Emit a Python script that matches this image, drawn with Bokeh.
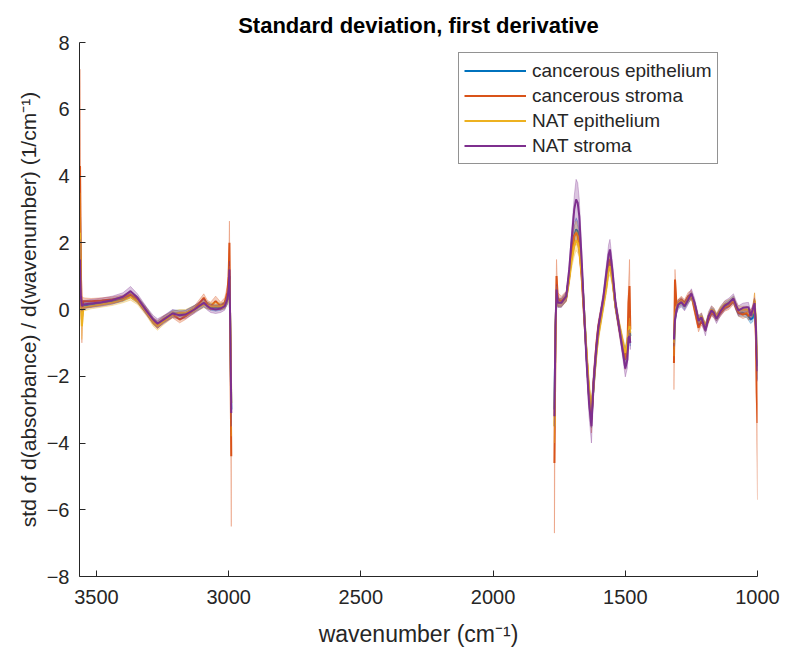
import numpy as np
from bokeh.plotting import figure
from bokeh.models import Range1d, Legend, LegendItem, Label, FixedTicker
from bokeh.embed import file_html
from bokeh.resources import INLINE

# ---------------- data (values in units of 1e-3) ----------------
series_names = ["cancerous epithelium", "cancerous stroma", "NAT epithelium", "NAT stroma"]
series_colors = ["#0072BD", "#D95319", "#EDB120", "#7E2F8E"]

x_ticks = [3500, 3000, 2500, 2000, 1500, 1000]
y_ticks = [-8, -6, -4, -2, 0, 2, 4, 6, 8]

# region 1 : 3562 .. 2990 cm-1
wn1 = [3562, 3559, 3555, 3550, 3520, 3480, 3440, 3400, 3371, 3345, 3310, 3285, 3269, 3245,
       3212, 3185, 3163, 3130, 3094, 3080, 3068, 3049, 3030, 3015, 3005, 3000, 2997, 2993, 2990]
ce1 = [2.8, 0.5, -0.1, 0.12, 0.15, 0.2, 0.25, 0.32, 0.45, 0.3, -0.05, -0.35, -0.45, -0.3,
       -0.12, -0.12, -0.12, 0.02, 0.18, 0.12, 0.08, 0.05, 0.08, 0.12, 0.3, 0.55, 1.0, -0.9, -3.0]
ce1_sd = [1.0, 0.4, 0.3, 0.1, 0.08, 0.08, 0.08, 0.08, 0.1, 0.1, 0.1, 0.1, 0.1, 0.1,
          0.1, 0.1, 0.1, 0.1, 0.1, 0.1, 0.1, 0.1, 0.1, 0.1, 0.15, 0.2, 0.4, 0.5, 0.8]
cs1 = [4.3, 1.2, -0.3, 0.25, 0.25, 0.27, 0.3, 0.35, 0.45, 0.3, -0.05, -0.35, -0.45, -0.28,
       -0.15, -0.3, -0.2, 0.0, 0.35, 0.15, 0.1, 0.25, 0.1, 0.2, 0.5, 1.0, 2.0, -1.5, -4.4]
cs1_sd = [2.9, 0.9, 0.7, 0.1, 0.08, 0.08, 0.08, 0.08, 0.1, 0.1, 0.1, 0.1, 0.12, 0.1,
          0.1, 0.1, 0.1, 0.1, 0.12, 0.12, 0.12, 0.15, 0.12, 0.15, 0.2, 0.3, 0.65, 0.8, 2.1]
ne1 = [2.3, 0.6, -0.5, 0.05, 0.1, 0.15, 0.2, 0.28, 0.38, 0.25, -0.1, -0.4, -0.5, -0.35,
       -0.15, -0.1, -0.1, 0.02, 0.15, 0.12, 0.1, 0.1, 0.1, 0.12, 0.3, 0.5, 0.9, -0.8, -2.8]
ne1_sd = [1.2, 0.5, 0.4, 0.1, 0.08, 0.08, 0.08, 0.08, 0.1, 0.1, 0.1, 0.1, 0.12, 0.1,
          0.1, 0.1, 0.1, 0.1, 0.1, 0.1, 0.1, 0.1, 0.1, 0.1, 0.15, 0.3, 0.4, 0.6, 1.0]
ns1 = [1.5, 0.4, 0.1, 0.15, 0.18, 0.22, 0.28, 0.38, 0.55, 0.35, -0.05, -0.3, -0.42, -0.3,
       -0.12, -0.17, -0.15, 0.0, 0.2, 0.1, 0.03, 0.0, 0.03, 0.1, 0.3, 0.6, 1.2, -1.0, -3.1]
ns1_sd = [0.6, 0.3, 0.15, 0.12, 0.12, 0.12, 0.12, 0.12, 0.14, 0.12, 0.12, 0.12, 0.14, 0.12,
          0.12, 0.12, 0.12, 0.12, 0.12, 0.12, 0.12, 0.12, 0.12, 0.12, 0.14, 0.2, 0.25, 0.3, 0.4]

# region 2 : 1768 .. 1481 cm-1
wn2 = [1768, 1764, 1760, 1755, 1742, 1723, 1712, 1704, 1693, 1686, 1680, 1674, 1665, 1659,
       1647, 1637, 1628, 1620, 1610, 1602, 1583, 1571, 1563, 1558, 1549, 1537, 1522, 1507,
       1500, 1492, 1488, 1484, 1481]
ce2 = [-3.0, -0.6, 0.5, 0.2, 0.2, 0.38, 1.0, 1.6, 2.2, 2.4, 2.35, 2.0, 1.2, 0.4,
       -1.3, -2.6, -3.2, -2.3, -1.3, -0.7, 0.2, 0.8, 1.35, 1.45, 1.0, 0.1, -0.55, -1.2,
       -1.4, -1.1, -0.6, -0.5, -0.8]
ce2_sd = [0.5, 0.3, 0.2, 0.12, 0.12, 0.12, 0.15, 0.2, 0.3, 0.35, 0.3, 0.3, 0.2, 0.2,
          0.2, 0.3, 0.35, 0.3, 0.2, 0.15, 0.15, 0.2, 0.25, 0.25, 0.2, 0.15, 0.15, 0.2,
          0.25, 0.25, 0.3, 0.3, 0.3]
cs2 = [-4.6, -1.0, 1.0, 0.3, 0.25, 0.4, 1.0, 1.6, 2.2, 2.3, 2.2, 1.9, 1.0, 0.2,
       -1.3, -2.6, -3.3, -2.2, -1.1, -0.5, 0.3, 0.9, 1.4, 1.5, 1.0, 0.1, -0.6, -1.2,
       -1.5, -1.2, 0.2, 0.7, -0.6]
cs2_sd = [2.1, 0.7, 0.5, 0.2, 0.15, 0.15, 0.2, 0.2, 0.3, 0.35, 0.3, 0.3, 0.2, 0.2,
          0.2, 0.3, 0.4, 0.3, 0.2, 0.15, 0.15, 0.2, 0.25, 0.25, 0.2, 0.15, 0.2, 0.25,
          0.3, 0.3, 0.5, 0.8, 0.4]
ne2 = [-3.5, -0.6, 0.5, 0.2, 0.2, 0.35, 0.9, 1.4, 1.9, 2.07, 2.0, 1.8, 1.1, 0.4,
       -1.2, -2.4, -3.0, -2.3, -1.4, -0.8, 0.1, 0.7, 1.2, 1.3, 0.9, 0.1, -0.5, -1.1,
       -1.3, -1.0, -0.7, -0.5, -0.7]
ne2_sd = [0.5, 0.3, 0.2, 0.12, 0.12, 0.12, 0.15, 0.2, 0.3, 0.3, 0.3, 0.25, 0.2, 0.2,
          0.2, 0.3, 0.3, 0.3, 0.2, 0.15, 0.15, 0.2, 0.25, 0.25, 0.2, 0.15, 0.15, 0.2,
          0.2, 0.2, 0.25, 0.25, 0.25]
ns2 = [-3.2, -0.5, 0.6, 0.2, 0.2, 0.4, 1.2, 2.0, 3.0, 3.3, 3.2, 2.8, 1.5, 0.5,
       -1.5, -2.8, -3.5, -2.2, -1.2, -0.55, 0.36, 1.16, 1.65, 1.8, 1.2, 0.2, -0.6, -1.4,
       -1.77, -1.5, -0.84, -0.8, -1.0]
ns2_sd = [0.3, 0.2, 0.15, 0.14, 0.14, 0.14, 0.16, 0.2, 0.4, 0.6, 0.6, 0.5, 0.3, 0.2,
          0.2, 0.4, 0.5, 0.4, 0.2, 0.16, 0.16, 0.2, 0.3, 0.3, 0.25, 0.16, 0.16, 0.2,
          0.25, 0.25, 0.2, 0.2, 0.2]

# region 3 : 1316 .. 1000 cm-1
wn3 = [1316, 1312, 1306, 1300, 1288, 1276, 1262, 1250, 1238, 1223, 1212, 1197, 1185, 1174,
       1165, 1155, 1140, 1124, 1108, 1091, 1080, 1072, 1055, 1040, 1034, 1026, 1018, 1011,
       1006, 1003, 1000]
ce3 = [-1.2, -0.25, 0.0, 0.15, 0.22, 0.1, 0.3, 0.42, 0.15, -0.35, -0.25, -0.55, -0.25, -0.05,
       -0.1, -0.25, -0.05, 0.1, 0.18, 0.3, 0.05, -0.1, -0.1, -0.15, -0.2, -0.3, -0.25, 0.1,
       -0.5, -1.2, -1.7]
ce3_sd = [0.4, 0.2, 0.12, 0.1, 0.1, 0.1, 0.1, 0.1, 0.1, 0.12, 0.1, 0.12, 0.1, 0.1,
          0.1, 0.1, 0.1, 0.1, 0.1, 0.1, 0.1, 0.1, 0.1, 0.1, 0.12, 0.12, 0.12, 0.15,
          0.2, 0.3, 0.4]
cs3 = [-1.6, 0.9, 0.1, 0.2, 0.3, 0.2, 0.4, 0.45, 0.0, -0.55, -0.35, -0.55, -0.3, -0.1,
       -0.15, -0.25, -0.1, 0.05, 0.1, 0.25, 0.05, -0.1, -0.15, -0.1, -0.2, -0.1, -0.05, 0.25,
       -0.8, -2.5, -3.4]
cs3_sd = [0.8, 0.3, 0.15, 0.1, 0.1, 0.1, 0.12, 0.12, 0.12, 0.12, 0.12, 0.12, 0.1, 0.1,
          0.1, 0.1, 0.1, 0.1, 0.1, 0.1, 0.1, 0.1, 0.12, 0.12, 0.12, 0.12, 0.12, 0.25,
          0.5, 1.5, 2.3]
ne3 = [-1.0, -0.2, 0.05, 0.2, 0.25, 0.15, 0.3, 0.4, 0.15, -0.3, -0.2, -0.5, -0.2, 0.0,
       -0.05, -0.2, 0.0, 0.15, 0.2, 0.3, 0.1, 0.0, 0.0, 0.0, -0.05, -0.1, -0.1, 0.3,
       -0.4, -1.0, -1.5]
ne3_sd = [0.4, 0.2, 0.12, 0.1, 0.1, 0.1, 0.1, 0.1, 0.1, 0.1, 0.1, 0.1, 0.1, 0.1,
          0.1, 0.1, 0.1, 0.1, 0.1, 0.1, 0.1, 0.1, 0.1, 0.1, 0.1, 0.1, 0.12, 0.2,
          0.2, 0.3, 0.4]
ns3 = [-0.9, -0.3, 0.0, 0.15, 0.22, 0.1, 0.3, 0.48, 0.2, -0.33, -0.24, -0.63, -0.2, -0.03,
       -0.1, -0.28, -0.05, 0.12, 0.2, 0.33, 0.1, -0.03, 0.05, 0.07, 0.07, -0.19, 0.0, 0.19,
       -0.5, -1.4, -1.85]
ns3_sd = [0.2, 0.15, 0.14, 0.14, 0.14, 0.14, 0.14, 0.14, 0.14, 0.14, 0.14, 0.16, 0.14, 0.14,
          0.14, 0.14, 0.14, 0.14, 0.14, 0.14, 0.14, 0.14, 0.14, 0.14, 0.14, 0.14, 0.14, 0.16,
          0.2, 0.3, 0.3]

regions_wn = [wn1, wn2, wn3]
series_means = [[ce1, ce2, ce3], [cs1, cs2, cs3], [ne1, ne2, ne3], [ns1, ns2, ns3]]
series_sds = [[ce1_sd, ce2_sd, ce3_sd], [cs1_sd, cs2_sd, cs3_sd],
              [ne1_sd, ne2_sd, ne3_sd], [ns1_sd, ns2_sd, ns3_sd]]

FONT = "Liberation Sans"
AX_COLOR = "#262626"

p = figure(width=783, height=650, output_backend="svg", toolbar_location=None,
           x_range=Range1d(3564, 1000), y_range=Range1d(-8, 8),
           min_border_left=79, min_border_right=26, min_border_top=42, min_border_bottom=74)
p.title.text = "Standard deviation, first derivative"
p.title.align = "center"
p.title.text_font = FONT
p.title.text_font_size = "22px"
p.title.text_font_style = "bold"
p.title.text_color = "#000000"
p.title.standoff = 10

p.grid.visible = False
p.outline_line_color = None
p.background_fill_color = "white"
p.border_fill_color = "white"

for ax in (p.xaxis[0], p.yaxis[0]):
    ax.axis_line_color = AX_COLOR
    ax.major_tick_line_color = AX_COLOR
    ax.major_tick_in = 6
    ax.major_tick_out = 0
    ax.minor_tick_line_color = None
    ax.major_label_text_font = FONT
    ax.major_label_text_font_size = "20px"
    ax.major_label_text_color = AX_COLOR
    ax.axis_label_text_font = FONT
    ax.axis_label_text_color = AX_COLOR
    ax.axis_label_text_font_style = "normal"

p.xaxis.ticker = FixedTicker(ticks=x_ticks)
p.yaxis.ticker = FixedTicker(ticks=y_ticks)
p.xaxis.axis_label = "wavenumber (cm\u207b\u00b9)"
p.yaxis.axis_label = "std of d(absorbance) / d(wavenumber) (1/cm\u207b\u00b9)"
p.xaxis.axis_label_text_font_size = "23px"
p.yaxis.axis_label_text_font_size = "21px"
p.xaxis.major_label_standoff = 13
p.yaxis.major_label_standoff = 10
p.xaxis.axis_label_standoff = 14
p.yaxis.axis_label_standoff = 4

line_renderers = []
for name, color, means, sds in zip(series_names, series_colors, series_means, series_sds):
    xs_all, ys_all = [], []
    for wn, m, s in zip(regions_wn, means, sds):
        m = np.array(m, dtype=float)
        s = np.array(s, dtype=float)
        px = list(wn) + list(wn)[::-1]
        py = list(m + s) + list((m - s)[::-1])
        p.patch(px, py, fill_color=color, fill_alpha=0.28,
                line_color=color, line_alpha=0.3, line_width=1)
        xs_all += list(wn) + [np.nan]
        ys_all += list(m) + [np.nan]
    r = p.line(xs_all, ys_all, line_color=color, line_width=2)
    line_renderers.append(r)

legend = Legend(items=[LegendItem(label=n, renderers=[r]) for n, r in zip(series_names, line_renderers)],
                location=(379, 412))
legend.label_text_font = FONT
legend.label_text_font_size = "19px"
legend.label_text_color = AX_COLOR
legend.glyph_width = 62
legend.glyph_height = 25
legend.label_height = 25
legend.spacing = 0
legend.padding = 5
legend.margin = 0
legend.label_standoff = 6
legend.border_line_color = "#262626"
legend.border_line_width = 1
legend.background_fill_alpha = 1
p.add_layout(legend, "center")

p.add_layout(Label(x=3560, y=8.29, text="\u00d710", text_font=FONT, text_font_size="20px",
                   text_color=AX_COLOR, text_baseline="middle", text_align="left"))
p.add_layout(Label(x=3428, y=8.45, text="-3", text_font=FONT, text_font_size="17px",
                   text_color=AX_COLOR, text_baseline="middle", text_align="left"))

open("out.html", "w").write(file_html(p, INLINE))
